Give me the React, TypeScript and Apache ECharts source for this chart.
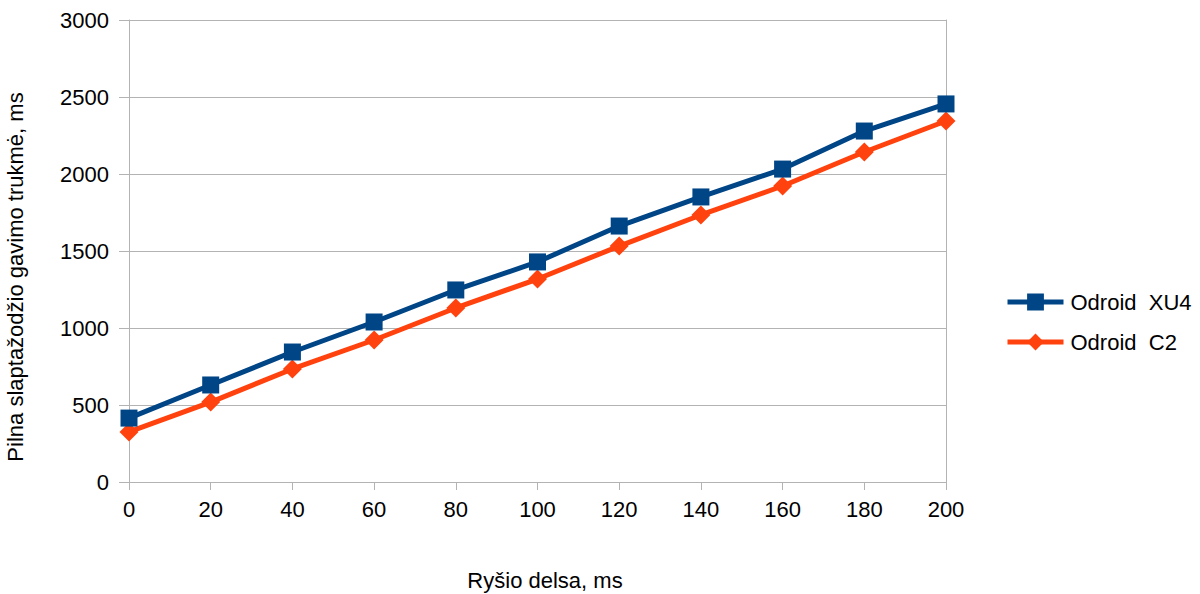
import React, { useEffect, useRef } from "react";
import * as echarts from "echarts";

const categories = ["0", "20", "40", "60", "80", "100", "120", "140", "160", "180", "200"];
const xu4 = [415, 630, 844, 1039, 1247, 1429, 1662, 1851, 2032, 2279, 2455];
const c2 = [325, 519, 734, 922, 1130, 1318, 1532, 1734, 1922, 2143, 2344];
const seriesNames = ["Odroid  XU4", "Odroid  C2"];
const xName = "Ryšio delsa, ms";
const yName = "Pilna slaptažodžio gavimo trukmė, ms";

export default function App() {
  const ref = useRef<HTMLDivElement>(null);
  useEffect(() => {
    if (!ref.current) return;
    const chart = echarts.init(ref.current, null, { renderer: "svg" });
    const font = "'Liberation Sans', Arial, sans-serif";
    chart.setOption({
      animation: false,
      backgroundColor: "#ffffff",
      textStyle: { fontFamily: font },
      grid: { left: 129, right: 254, top: 20, bottom: 112 },
      graphic: [
        {
          type: "text",
          x: 15,
          y: 277,
          rotation: Math.PI / 2,
          style: {
            text: yName,
            fontSize: 22,
            fontFamily: font,
            fill: "#000",
            align: "center",
            verticalAlign: "middle",
          },
        },
        {
          type: "text",
          x: 545,
          y: 580,
          style: {
            text: xName,
            fontSize: 22,
            fontFamily: font,
            fill: "#000",
            align: "center",
            verticalAlign: "middle",
          },
        },
      ],
      legend: {
        orient: "vertical",
        left: 1000,
        top: 286,
        itemWidth: 56,
        itemHeight: 21,
        itemGap: 18,
        textStyle: { fontSize: 22, color: "#000", fontFamily: font, padding: [0, 0, 0, 2] },
        lineStyle: { width: 5 },
        data: seriesNames,
      },
      xAxis: {
        type: "category",
        boundaryGap: false,
        data: categories,
        axisLine: { lineStyle: { color: "#b3b3b3", width: 1 } },
        axisTick: { show: true, length: 8, lineStyle: { color: "#b3b3b3" } },
        axisLabel: { fontSize: 22, color: "#000", margin: 16 },
        splitLine: { show: false },
      },
      yAxis: [
        {
          type: "value",
          min: 0,
          max: 3000,
          interval: 500,
          axisLine: { show: true, lineStyle: { color: "#b3b3b3", width: 1 } },
          axisTick: { show: true, length: 10, lineStyle: { color: "#b3b3b3" } },
          axisLabel: { fontSize: 22, color: "#000", margin: 20, formatter: (v: number) => String(v) },
          splitLine: { show: true, lineStyle: { color: "#b3b3b3", width: 1 } },
        },
        {
          type: "value",
          min: 0,
          max: 3000,
          interval: 500,
          position: "right",
          axisLine: { show: true, lineStyle: { color: "#b3b3b3", width: 1 } },
          axisTick: { show: false },
          axisLabel: { show: false },
          splitLine: { show: false },
        },
      ],
      series: [
        {
          name: seriesNames[0],
          type: "line",
          data: xu4,
          symbol: "rect",
          symbolSize: 17,
          color: "#004586",
          lineStyle: { width: 5, color: "#004586" },
          itemStyle: { color: "#004586" },
          z: 3,
        },
        {
          name: seriesNames[1],
          type: "line",
          data: c2,
          symbol: "diamond",
          symbolSize: 19,
          color: "#ff420e",
          lineStyle: { width: 5, color: "#ff420e" },
          itemStyle: { color: "#ff420e" },
          z: 2,
        },
      ],
    });
    return () => chart.dispose();
  }, []);
  return (
    <div
      ref={ref}
      style={{ position: "fixed", left: 0, top: 0, width: 1200, height: 594 }}
    />
  );
}
